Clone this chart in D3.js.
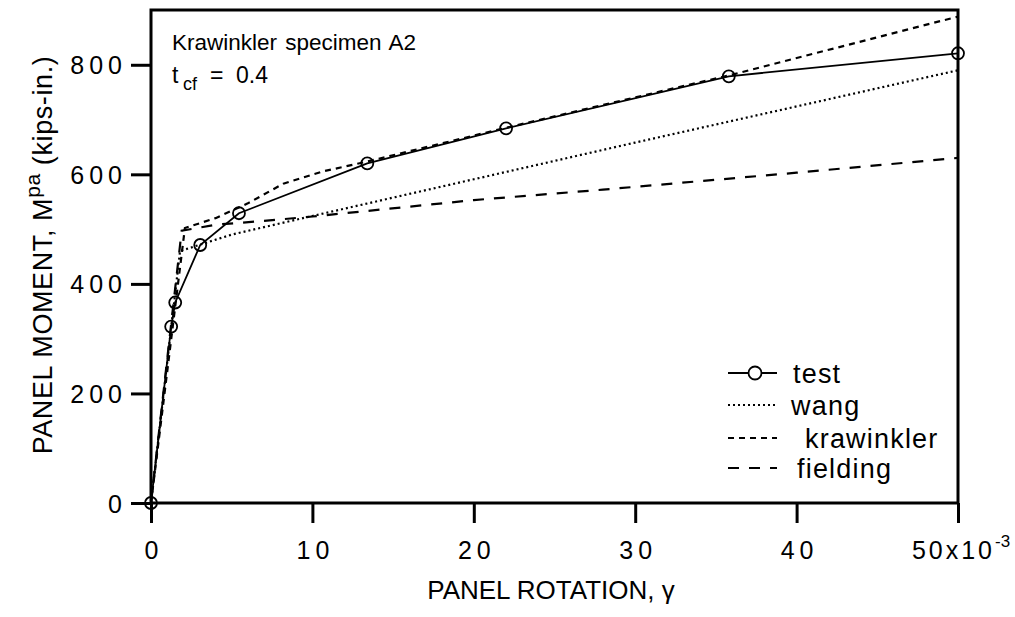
<!DOCTYPE html>
<html lang="en">
<head>
  <meta charset="UTF-8">
  <title>Panel moment vs panel rotation - Krawinkler specimen A2</title>
  <style>
    body { margin: 0; background: #fff; }
    svg { display: block; font-family: "Liberation Sans", Arial, Helvetica, sans-serif; }
    .tick text { font-size: 25px; letter-spacing: 5px; fill: #000; }
    .tick line { stroke: #000; stroke-width: 3px; }
  </style>
</head>
<body>
  <svg id="chart" width="1015" height="617"></svg>

  <script src="https://d3js.org/d3.v7.min.js"></script>
  <script>
    // values (rotation in 10^-3, moment in kips-in.)
    const xTicks = [0, 10, 20, 30, 40, 50];
    const yTicks = [0, 200, 400, 600, 800];

    const testX = [0, 1.25, 1.5, 3.05, 5.45, 13.4, 22, 35.8, 50];
    const testY = [0, 322, 366, 471, 529, 620, 684, 779, 821];

    const wangX = [0, 1.8, 5, 10, 20, 30, 40, 50];
    const wangY = [0, 460, 490, 524, 591, 658, 724, 790];

    const krawX = [0, 2.1, 4, 6, 8.2, 10.6, 13.2, 22, 36, 50];
    const krawY = [0, 502, 520, 547, 583, 605, 622, 685, 782, 888];

    const fieldX = [0, 1.9, 4, 7, 10, 13, 20, 28, 40, 50];
    const fieldY = [0, 497, 508, 515, 523, 532, 553, 572, 603, 630];

    const legendNames = ["test", "wang", "krawinkler", "fielding"];
    const legendDash = [null, "2,3", "6,5", "11,10"];

    const svg = d3.select("#chart");

    const x = d3.scaleLinear().domain([0, 50]).range([151, 958]);
    const y = d3.scaleLinear().domain([0, 900]).range([503, 10]);

    const pts = (xs, ys) => xs.map((v, i) => [v, ys[i]]);
    const line = d3.line().x(d => x(d[0])).y(d => y(d[1]));

    // y axis
    const yAxis = svg.append("g")
      .attr("transform", `translate(${x(0)},0)`)
      .call(d3.axisLeft(y).tickValues(yTicks).tickSize(20).tickPadding(4));
    yAxis.select(".domain").remove();
    yAxis.selectAll("text").attr("dy", "0.36em");

    // x axis
    const xAxis = svg.append("g")
      .attr("transform", `translate(0,${y(0)})`)
      .call(d3.axisBottom(x).tickValues(xTicks).tickSize(20).tickPadding(18)
        .tickFormat(d => d === 50 ? "50x10" : d));
    xAxis.select(".domain").remove();
    xAxis.selectAll("text").attr("dx", "2.5px");
    xAxis.selectAll(".tick").filter(d => d === 50).select("text")
      .style("letter-spacing", "3px")
      .append("tspan")
      .attr("dy", "-0.7em")
      .style("font-size", "17px")
      .style("letter-spacing", "0px")
      .text("-3");

    // frame
    svg.append("rect")
      .attr("x", x(0)).attr("y", y(900))
      .attr("width", x(50) - x(0)).attr("height", y(0) - y(900))
      .attr("fill", "none").attr("stroke", "#000").attr("stroke-width", 3);

    // curves
    svg.append("path").datum(pts(wangX, wangY))
      .attr("d", line).attr("fill", "none").attr("stroke", "#000")
      .attr("stroke-width", 2.2).attr("stroke-dasharray", legendDash[1]);

    svg.append("path").datum(pts(krawX, krawY))
      .attr("d", line).attr("fill", "none").attr("stroke", "#000")
      .attr("stroke-width", 2.2).attr("stroke-dasharray", legendDash[2]);

    svg.append("path").datum(pts(fieldX, fieldY))
      .attr("d", line).attr("fill", "none").attr("stroke", "#000")
      .attr("stroke-width", 2.2).attr("stroke-dasharray", legendDash[3]);

    svg.append("path").datum(pts(testX, testY))
      .attr("d", line).attr("fill", "none").attr("stroke", "#000")
      .attr("stroke-width", 1.8);

    svg.selectAll(".marker").data(pts(testX, testY)).enter()
      .append("circle").attr("class", "marker")
      .attr("cx", d => x(d[0])).attr("cy", d => y(d[1])).attr("r", 6)
      .attr("fill", "none").attr("stroke", "#000").attr("stroke-width", 1.8);

    // annotation
    svg.append("text").attr("x", 172).attr("y", 50)
      .style("font-size", "22.5px").style("word-spacing", "2px")
      .text("Krawinkler specimen A2");
    const t = svg.append("text").attr("y", 83).style("font-size", "23px");
    t.append("tspan").attr("x", 172).text("t");
    t.append("tspan").attr("x", 183).attr("dy", 7).style("font-size", "18px").text("cf");
    t.append("tspan").attr("x", 210).attr("dy", -7).text("=");
    t.append("tspan").attr("x", 236).text("0.4");

    // legend
    const legY = [373, 405, 438, 468];
    const legTextX = [793, 791, 805, 797];
    const leg = svg.append("g");
    legendNames.forEach((name, i) => {
      leg.append("line")
        .attr("x1", 728).attr("x2", 777).attr("y1", legY[i]).attr("y2", legY[i])
        .attr("stroke", "#000").attr("stroke-width", i === 0 ? 1.8 : 2.2)
        .attr("stroke-dasharray", legendDash[i]);
      if (i === 0) {
        leg.append("circle").attr("cx", 755).attr("cy", legY[i]).attr("r", 6.5)
          .attr("fill", "#fff").attr("stroke", "#000").attr("stroke-width", 1.8);
      }
      leg.append("text").attr("x", legTextX[i]).attr("y", legY[i] + 10)
        .style("font-size", "27px").style("letter-spacing", "1.2px").text(name);
    });

    // axis titles
    svg.append("text")
      .attr("x", 551).attr("y", 599)
      .attr("text-anchor", "middle").style("font-size", "26px")
      .text("PANEL ROTATION, \u03b3");

    const yt = svg.append("text")
      .attr("transform", "translate(52,255) rotate(-90)")
      .attr("text-anchor", "middle").style("font-size", "27px")
      .style("letter-spacing", "0.6px");
    yt.append("tspan").text("PANEL MOMENT, M");
    yt.append("tspan").attr("dy", -12).style("font-size", "21px").text("pa");
    yt.append("tspan").attr("dy", 12).text(" (kips-in.)");
  </script>
</body>
</html>
